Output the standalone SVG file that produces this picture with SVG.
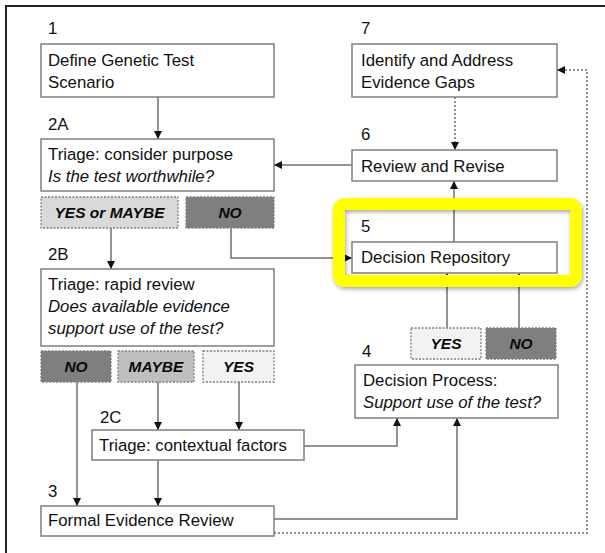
<svg xmlns="http://www.w3.org/2000/svg" width="605" height="553" viewBox="0 0 605 553">
  <defs>
    <marker id="arrow" viewBox="0 0 10 10" refX="10" refY="5" markerWidth="8" markerHeight="8" markerUnits="userSpaceOnUse" orient="auto">
      <path d="M0,0 L10,5 L0,10 z" fill="#111"/>
    </marker>
    <filter id="shadow" x="-10%" y="-10%" width="120%" height="130%">
      <feDropShadow dx="1" dy="2" stdDeviation="2" flood-color="#000" flood-opacity="0.35"/>
    </filter>
    <style>
      .box { fill: #fff; stroke: #7f7f7f; stroke-width: 1.5; }
      .opt { stroke: #7f7f7f; stroke-width: 1.3; stroke-dasharray: 2 1.5; }
      .dark { fill: #7f7f7f; }
      .mid { fill: #bfbfbf; }
      .light { fill: #d9d9d9; }
      .pale { fill: #f2f2f2; }
      .t { font-family: "Liberation Sans", Arial, sans-serif; font-size: 16.8px; fill: #111; }
      .i { font-style: italic; }
      .o { font-family: "Liberation Sans", Arial, sans-serif; font-size: 15.5px; font-weight: bold; font-style: italic; fill: #0a0a0a; text-anchor: middle; }
      .line { fill: none; stroke: #6f6f6f; stroke-width: 1.5; }
      .dot { fill: none; stroke: #6f6f6f; stroke-width: 1.5; stroke-dasharray: 2 2; }
    </style>
  </defs>

  <rect width="605" height="553" fill="#fff"/>
  <!-- frame -->
  <path d="M6,553 V6 H605" fill="none" stroke="#222" stroke-width="2"/>

  <!-- connectors -->
  <g id="connectors">
    <line class="line" x1="158" y1="97" x2="158" y2="139" marker-end="url(#arrow)"/>
    <line class="line" x1="352" y1="165" x2="274" y2="165" marker-end="url(#arrow)"/>
    <line class="dot" x1="455" y1="97" x2="455" y2="150" marker-end="url(#arrow)"/>
    <line class="line" x1="111" y1="228" x2="111" y2="269" marker-end="url(#arrow)"/>
    <path class="line" d="M231,228 V258 H352" marker-end="url(#arrow)"/>
    <line class="line" x1="454" y1="242" x2="454" y2="181" marker-end="url(#arrow)"/>
    <line class="line" x1="447" y1="328" x2="447" y2="273" marker-end="url(#arrow)"/>
    <line class="line" x1="519" y1="328" x2="519" y2="273" marker-end="url(#arrow)"/>
    <line class="line" x1="77" y1="382" x2="77" y2="506" marker-end="url(#arrow)"/>
    <line class="line" x1="158" y1="382" x2="158" y2="430" marker-end="url(#arrow)"/>
    <line class="line" x1="239" y1="382" x2="239" y2="430" marker-end="url(#arrow)"/>
    <line class="line" x1="158" y1="460" x2="158" y2="506" marker-end="url(#arrow)"/>
    <path class="line" d="M304,446 H397 V418" marker-end="url(#arrow)"/>
    <path class="line" d="M274,519 H457 V418" marker-end="url(#arrow)"/>
    <path class="dot" d="M274,533 H587 V70 H557" marker-end="url(#arrow)"/>
  </g>

  <!-- step 1 -->
  <g id="step1">
    <text class="t" x="48" y="34">1</text>
    <rect class="box" x="41" y="44" width="233" height="53"/>
    <text class="t" x="48" y="66">Define Genetic Test</text>
    <text class="t" x="48" y="88">Scenario</text>
  </g>

  <!-- step 2A -->
  <g id="step2a">
    <text class="t" x="48" y="130">2A</text>
    <rect class="box" x="41" y="139" width="233" height="52"/>
    <text class="t" x="48" y="160">Triage: consider purpose</text>
    <text class="t i" x="48" y="182">Is the test worthwhile?</text>
  </g>
  <g id="opt2a-yes">
    <rect class="opt light" x="41" y="197" width="137" height="31"/>
    <text class="o" x="109.5" y="218">YES or MAYBE</text>
  </g>
  <g id="opt2a-no">
    <rect class="opt dark" x="186" y="197" width="88" height="31"/>
    <text class="o" x="230" y="218">NO</text>
  </g>

  <!-- step 2B -->
  <g id="step2b">
    <text class="t" x="48" y="260">2B</text>
    <rect class="box" x="41" y="269" width="233" height="77"/>
    <text class="t" x="48" y="290">Triage: rapid review</text>
    <text class="t i" x="48" y="312">Does available evidence</text>
    <text class="t i" x="48" y="334">support use of the test?</text>
  </g>
  <g id="opt2b-no">
    <rect class="opt dark" x="41" y="351" width="70" height="31"/>
    <text class="o" x="76" y="372">NO</text>
  </g>
  <g id="opt2b-maybe">
    <rect class="opt mid" x="118" y="351" width="76" height="31"/>
    <text class="o" x="156" y="372">MAYBE</text>
  </g>
  <g id="opt2b-yes">
    <rect class="opt pale" x="203" y="351" width="71" height="31"/>
    <text class="o" x="238.5" y="372">YES</text>
  </g>

  <!-- step 2C -->
  <g id="step2c">
    <text class="t" x="100" y="423">2C</text>
    <rect class="box" x="92" y="430" width="212" height="30"/>
    <text class="t" x="99" y="451">Triage: contextual factors</text>
  </g>

  <!-- step 3 -->
  <g id="step3">
    <text class="t" x="48" y="497">3</text>
    <rect class="box" x="41" y="506" width="233" height="30"/>
    <text class="t" x="48" y="526">Formal Evidence Review</text>
  </g>

  <!-- step 4 -->
  <g id="step4">
    <text class="t" x="362" y="357">4</text>
    <rect class="box" x="355" y="365" width="203" height="53"/>
    <text class="t" x="363" y="386">Decision Process:</text>
    <text class="t i" x="363" y="408">Support use of the test?</text>
  </g>
  <g id="opt4-yes">
    <rect class="opt pale" x="411" y="328" width="70" height="31"/>
    <text class="o" x="446" y="349">YES</text>
  </g>
  <g id="opt4-no">
    <rect class="opt dark" x="486" y="328" width="70" height="31"/>
    <text class="o" x="521" y="349">NO</text>
  </g>

  <!-- step 5 -->
  <g id="step5">
    <text class="t" x="361" y="232">5</text>
    <rect class="box" x="352" y="242" width="205" height="31"/>
    <text class="t" x="361" y="263">Decision Repository</text>
  </g>

  <!-- step 6 -->
  <g id="step6">
    <text class="t" x="361" y="140">6</text>
    <rect class="box" x="352" y="150" width="205" height="31"/>
    <text class="t" x="361" y="172">Review and Revise</text>
  </g>

  <!-- step 7 -->
  <g id="step7">
    <text class="t" x="361" y="34">7</text>
    <rect class="box" x="352" y="44" width="205" height="53"/>
    <text class="t" x="361" y="66">Identify and Address</text>
    <text class="t" x="361" y="88">Evidence Gaps</text>
  </g>

  <!-- highlight around step 5 -->
  <g id="highlight">
    <rect x="339" y="204" width="237" height="77" rx="6" fill="none" stroke="#ffff00" stroke-width="12" filter="url(#shadow)"/>
  </g>
</svg>
